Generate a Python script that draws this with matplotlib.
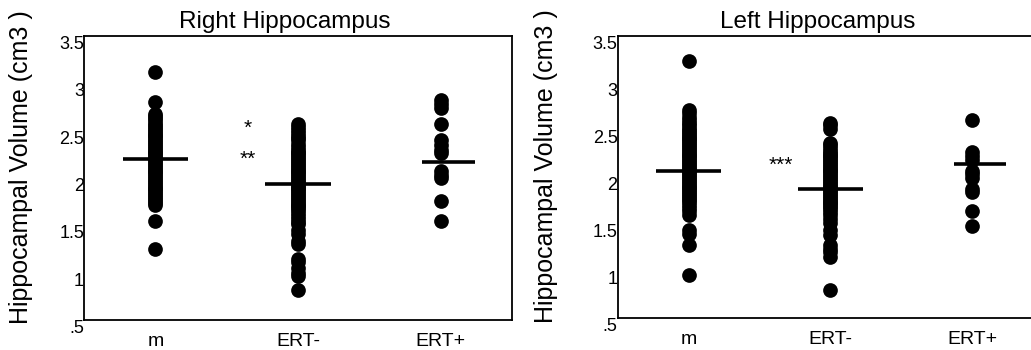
import matplotlib
matplotlib.use("Agg")
import matplotlib.pyplot as plt

plt.rcParams['font.family'] = ['Liberation Sans', 'DejaVu Sans']

groups = ['m', 'ERT-', 'ERT+']

# Right hippocampus volumes (cm3)
right_m = [3.12, 2.80, 2.68, 2.66, 2.63, 2.61, 2.58, 2.56, 2.54, 2.52, 2.50, 2.48,
           2.46, 2.44, 2.42, 2.40, 2.38, 2.36, 2.34, 2.32, 2.30, 2.28, 2.26, 2.24,
           2.22, 2.20, 2.18, 2.16, 2.14, 2.12, 2.10, 2.08, 2.06, 2.04, 2.02, 2.00,
           1.98, 1.96, 1.94, 1.92, 1.90, 1.88, 1.86, 1.84, 1.82, 1.80, 1.78, 1.76,
           1.74, 1.72, 1.55, 1.25]
right_ertm = [2.57, 2.54, 2.51, 2.48, 2.45, 2.42, 2.40, 2.36, 2.33, 2.30, 2.28,
              2.26, 2.24, 2.22, 2.20, 2.18, 2.16, 2.14, 2.12, 2.10, 2.08, 2.06,
              2.04, 2.02, 2.00, 1.98, 1.96, 1.94, 1.92, 1.90, 1.88, 1.86, 1.84,
              1.82, 1.80, 1.78, 1.76, 1.74, 1.72, 1.70, 1.68, 1.66, 1.63, 1.60,
              1.57, 1.54, 1.51, 1.45, 1.41, 1.33, 1.30, 1.15, 1.11, 1.05, 1.00,
              0.96, 0.82]
right_ertp = [2.82, 2.78, 2.74, 2.57, 2.40, 2.35, 2.30, 2.26, 2.08, 2.03, 2.00,
              1.76, 1.55]
right_means = [2.20, 1.94, 2.17]

# Left hippocampus volumes (cm3)
left_m = [3.23, 2.71, 2.68, 2.64, 2.61, 2.58, 2.55, 2.52, 2.50, 2.48, 2.46, 2.44,
          2.42, 2.40, 2.38, 2.36, 2.34, 2.32, 2.30, 2.28, 2.26, 2.24, 2.22, 2.20,
          2.18, 2.16, 2.14, 2.12, 2.10, 2.08, 2.06, 2.04, 2.02, 2.00, 1.98, 1.96,
          1.94, 1.92, 1.90, 1.88, 1.86, 1.84, 1.82, 1.80, 1.78, 1.76, 1.73, 1.70,
          1.67, 1.64, 1.60, 1.44, 1.39, 1.28, 0.96]
left_ertm = [2.58, 2.55, 2.51, 2.36, 2.34, 2.31, 2.28, 2.26, 2.24, 2.22, 2.20,
             2.18, 2.16, 2.14, 2.12, 2.10, 2.08, 2.06, 2.04, 2.02, 2.00, 1.98,
             1.96, 1.94, 1.92, 1.90, 1.88, 1.86, 1.84, 1.82, 1.80, 1.78, 1.76,
             1.74, 1.72, 1.70, 1.68, 1.66, 1.63, 1.60, 1.55, 1.51, 1.44, 1.38,
             1.28, 1.24, 1.20, 1.15, 0.80]
left_ertp = [2.61, 2.27, 2.22, 2.18, 2.07, 2.03, 1.99, 1.87, 1.84, 1.64, 1.48]
left_means = [2.07, 1.87, 2.14]

yticks = [0.5, 1, 1.5, 2, 2.5, 3, 3.5]
ytick_labels = ['.5', '1', '1.5', '2', '2.5', '3', '3.5']

panels = [
    ('Right Hippocampus', [right_m, right_ertm, right_ertp], right_means,
     [('*', 2.53), ('**', 2.20)], [0.0815, 0.0857, 0.415, 0.811], -0.12),
    ('Left Hippocampus', [left_m, left_ertm, left_ertp], left_means,
     [('***', 2.13)], [0.599, 0.091, 0.413, 0.806], -0.14),
]

fig = plt.figure(figsize=(10.31, 3.5), dpi=100)

for title, data, means, stars, pos, label_x in panels:
    ax = fig.add_axes(pos)
    for i, vals in enumerate(data):
        ax.scatter([i + 1] * len(vals), vals, s=112, color='black', zorder=3,
                   linewidths=0)
    # mean bars (slightly offset to the right for ERT+)
    lefts = [0.23, 0.23, 0.13]
    rights = [0.23, 0.23, 0.24]
    for i, mval in enumerate(means):
        ax.plot([i + 1 - lefts[i], i + 1 + rights[i]], [mval, mval],
                color='black', lw=2.6, solid_capstyle='butt', zorder=4)
    for s, yv in stars:
        ax.text(1.65, yv, s, ha='center', va='center', fontsize=15)

    ax.set_xlim(0.5, 3.5)
    ax.set_ylim(0.5, 3.5)
    ax.set_xticks([1, 2, 3])
    ax.set_xticklabels(groups, fontsize=14)
    ax.set_yticks(yticks)
    ax.set_yticklabels(ytick_labels, fontsize=13, va='top')
    ax.tick_params(length=0, pad=0)
    ax.tick_params(axis='x', pad=9)
    for sp in ax.spines.values():
        sp.set_linewidth(1.3)
    ax.set_ylabel('Hippocampal Volume (cm3 )', fontsize=18)
    ax.yaxis.set_label_coords(label_x, 0.54)
    ax.text(0.47, 1.028, title, transform=ax.transAxes, ha='center',
            va='baseline', fontsize=17.5)

fig.savefig('out.png', dpi=100)
